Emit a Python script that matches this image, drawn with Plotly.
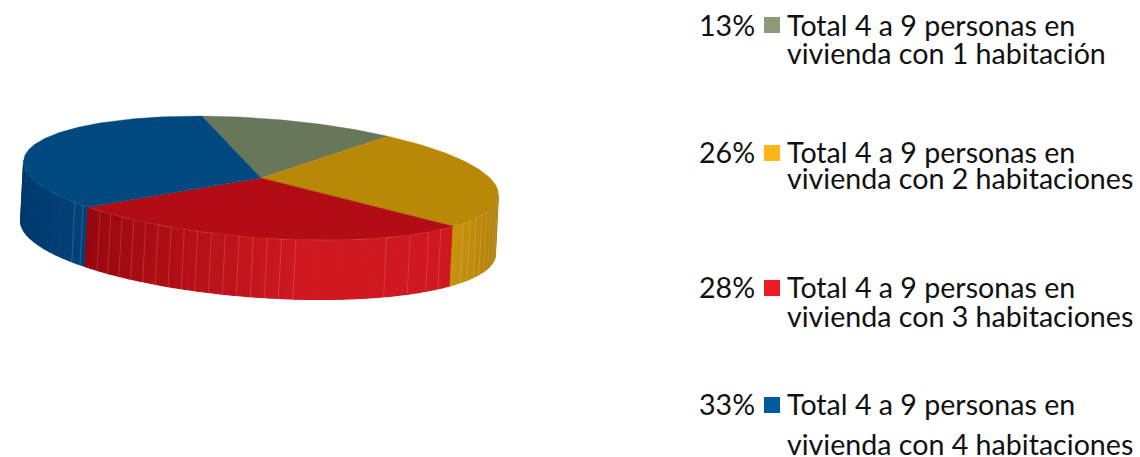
import numpy as np
import plotly.graph_objects as go

# ---- data ----
shares = [13, 26, 28, 33]
label_line1 = ["Total 4 a 9 personas en"] * 4
label_line2 = ["vivienda con 1 habitación", "vivienda con 2 habitaciones",
               "vivienda con 3 habitaciones", "vivienda con 4 habitaciones"]

# ---- styles ----
top_colors = ["#68765a", "#b98807", "#b20d14", "#004880"]
legend_colors = ["#8c9a7a", "#fdb515", "#ed1c24", "#005a9e"]
wall_stops = {
    0: [(0, "#68765a"), (1, "#68765a")],
    1: [(33.8, (200, 146, 15)), (0, (166, 120, 5))],
    2: [(135, (152, 6, 15)), (80, (207, 24, 32))],
    3: [(180, (0, 56, 106)), (135, (3, 66, 122))],
}
seams = {
    1: list(np.arange(3.4, 33, 3.4)),
    2: [39.7, 44, 50, 57, 80.5] + list(np.arange(84, 135, 3.4)),
    3: [137.5, 140.6],
}
# layout of the projected disc, in pixels
CX, CY, A, B, TILT, DX, DY = 261, 178, 238, 59.6, np.radians(4.2), -3, 59.5
START = -105.5
legend_rows = [(25, 53), (152, 178), (287, 316), (404, 444)]
swatch_y = [25, 153, 288, 405]
FONT = "Lato"
FS = 28.6


def ell(t, dx=0, dy=0):
    t = np.radians(np.asarray(t, dtype=float))
    ca, sa = np.cos(TILT), np.sin(TILT)
    x = CX + A * np.cos(t) * ca - B * np.sin(t) * sa + dx
    y = CY + A * np.cos(t) * sa + B * np.sin(t) * ca + dy
    return x, y


def poly(xs, ys, color, line=0.6):
    return go.Scatter(x=xs, y=ys, mode="lines", fill="toself", fillcolor=color,
                      line=dict(color=color, width=line), hoverinfo="skip", showlegend=False)


edges = START + np.concatenate([[0], np.cumsum(shares)]) * 360.0 / sum(shares)
fig = go.Figure()


def mix(stops, t):
    (t0, c0), (t1, c1) = stops
    f = min(max((t - t0) / (t1 - t0), 0), 1)
    return "rgb(%d,%d,%d)" % tuple(round(a + (b - a) * f) for a, b in zip(c0, c1))


# side wall strips
for i in (3, 2, 1):
    lo, hi = max(edges[i], 0), min(edges[i + 1], 180)
    bounds = np.r_[np.arange(lo, hi, 3.0), hi]
    for a, b in zip(bounds[:-1], bounds[1:]):
        ts = np.linspace(a, b, 6)
        x1, y1 = ell(ts)
        x2, y2 = ell(ts[::-1], DX, DY)
        fig.add_trace(poly(np.r_[x1, x2, x1[0]], np.r_[y1, y2, y1[0]], mix(wall_stops[i], (a + b) / 2), 1.2))
    for s in seams[i]:
        x1, y1 = ell(s)
        x2, y2 = ell(s, DX, DY)
        fig.add_trace(go.Scatter(x=[x1, x2], y=[y1, y2], mode="lines", hoverinfo="skip", showlegend=False,
                                 line=dict(color="rgba(255,255,255,0.2)", width=0.8)))

# light rim along the front of the top
rim_t = np.linspace(0, 180, 200)
rx, ry = ell(rim_t)
fig.add_trace(go.Scatter(x=rx, y=ry, mode="lines", hoverinfo="skip", showlegend=False,
                         line=dict(color="rgba(255,255,255,0.35)", width=0.8)))

# top face
for i in range(len(shares)):
    ts = np.linspace(edges[i], edges[i + 1], 120)
    x, y = ell(ts)
    fig.add_trace(poly(np.r_[CX, x, CX], np.r_[CY, y, CY], top_colors[i], 0.4))

# legend
fig.add_trace(go.Scatter(x=[772] * 4, y=swatch_y, mode="markers", hoverinfo="skip", showlegend=False,
                         marker=dict(symbol="square", size=16, color=legend_colors, line=dict(width=0))))
anns = []
for i, (y1, y2) in enumerate(legend_rows):
    font = dict(family=FONT, size=FS, color="#111111")
    anns.append(dict(x=756, y=y1, text=f"{shares[i]}%", xanchor="right", yanchor="middle",
                     xref="x", yref="y", showarrow=False, font=font, borderpad=0))
    anns.append(dict(x=786, y=y1, text=label_line1[i], xanchor="left", yanchor="middle",
                     xref="x", yref="y", showarrow=False, font=font, borderpad=0))
    anns.append(dict(x=786, y=y2, text=label_line2[i], xanchor="left", yanchor="middle",
                     xref="x", yref="y", showarrow=False, font=font, borderpad=0))

fig.update_layout(
    width=1140, height=457, margin=dict(l=0, r=0, t=0, b=0),
    paper_bgcolor="white", plot_bgcolor="white", annotations=anns, showlegend=False,
    xaxis=dict(range=[0, 1140], visible=False, fixedrange=True),
    yaxis=dict(range=[457, 0], visible=False, fixedrange=True),
)
fig.write_html("out.html", config=dict(displayModeBar=False),
               post_script="document.body.style.margin='0';document.body.style.overflow='hidden';")
